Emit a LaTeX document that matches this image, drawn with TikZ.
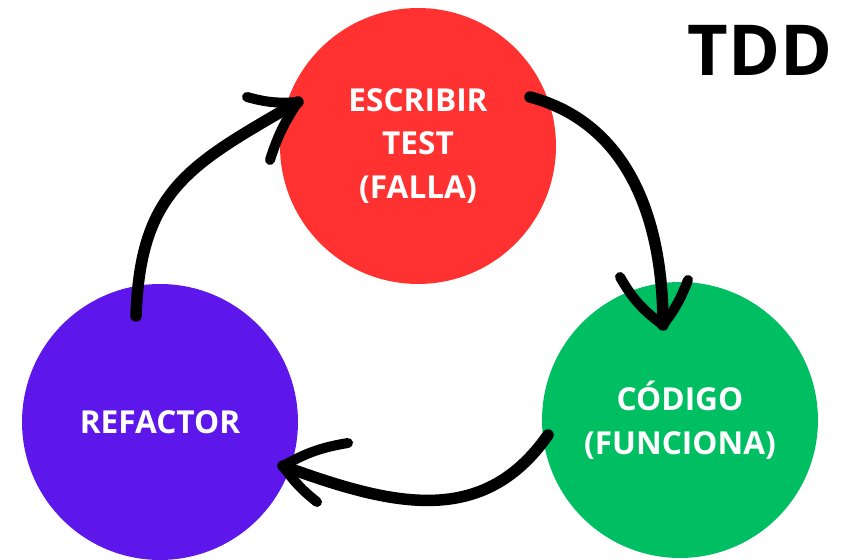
\documentclass[tikz,border=0pt]{standalone}
\usepackage{fontspec}
\setmainfont{Open Sans}
\usetikzlibrary{calc}
\definecolor{escribircolor}{HTML}{FF3131}
\definecolor{codigocolor}{HTML}{00BF63}
\definecolor{refactorcolor}{HTML}{5E17EB}
\tikzstyle{phase} =[
    circle,
    minimum size=5.52cm,
    inner sep=0pt,
    text=white,
    align=center,
    font=\fontsize{18}{25}\selectfont\bfseries
    ]
\tikzstyle{cyclearrow} = [
    line width=0.23cm,
    line cap=round,
    draw=black
    ]
\tikzstyle{barb} = [
    line width=0.2cm,
    line cap=round,
    draw=black
    ]

\begin{document}
\begin{tikzpicture}[x=0.02cm, y=0.02cm]
\useasboundingbox (0,0) rectangle (853,560);
\node [phase, fill=escribircolor] (escribir) at (418,414) {ESCRIBIR\\TEST\\(FALLA)};
\node [phase, fill=codigocolor] (codigo) at (680,140) {CÓDIGO\\(FUNCIONA)};
\node [phase, fill=refactorcolor] (refactor) at (160,138) {REFACTOR};
\node [font=\fontsize{40}{40}\selectfont\bfseries] (title) at (760,510) {TDD};

\coordinate (refactorout) at ($(refactor)+(-24,106)$);
\coordinate (escribirin) at ($(escribir)+(-120,44)$);
\coordinate (escribirout) at ($(escribir)+(112,49)$);
\coordinate (codigoin) at ($(codigo)+(-17,95)$);
\coordinate (codigoout) at ($(codigo)+(-132,-15)$);
\coordinate (refactorin) at ($(refactor)+(123,-44)$);

\draw [cyclearrow] (refactorout) to[out=88, in=210, looseness=1.2] (escribirin);
\draw [barb] (escribirin) to[bend left=10] ++(-51,5);
\draw [barb] (escribirin) to[bend right=8] ++(-28,-58);

\draw [cyclearrow] (escribirout) to[out=-15, in=90] (codigoin);
\draw [barb] (codigoin) to[bend left=12] ++(-43,48);
\draw [barb] (codigoin) to[bend right=8] ++(25,45);

\draw [cyclearrow] (codigoout) to[out=-125, in=-20, looseness=1.1] (refactorin);
\draw [barb] (refactorin) to[bend left=10] ++(65,23);
\draw [barb] (refactorin) to[bend right=8] ++(34,-36);
\end{tikzpicture}
\end{document}
